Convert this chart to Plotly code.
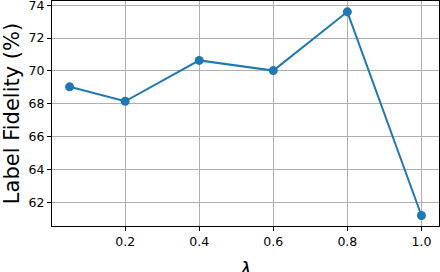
import plotly.graph_objects as go

lambdas = [0.05, 0.2, 0.4, 0.6, 0.8, 1.0]
fidelity = [69.03, 68.15, 70.64, 70.02, 73.6, 61.19]
x_ticks = [0.2, 0.4, 0.6, 0.8, 1.0]
x_tick_labels = ["0.2", "0.4", "0.6", "0.8", "1.0"]
y_ticks = [62, 64, 66, 68, 70, 72, 74]

fig = go.Figure()
fig.add_trace(go.Scatter(
    x=lambdas, y=fidelity, mode="lines+markers",
    line=dict(color="#1f77b4", width=2),
    marker=dict(color="#1f77b4", size=9),
    showlegend=False,
))

axis_common = dict(
    showline=True, linecolor="black", linewidth=1, mirror=True,
    showgrid=True, gridcolor="#b0b0b0", gridwidth=1,
    ticks="outside", ticklen=4, tickcolor="black",
    tickfont=dict(family="DejaVu Sans", size=12.5, color="black"),
    zeroline=False, automargin=False, ticklabeloverflow="allow",
)

fig.update_layout(
    width=440, height=272,
    margin=dict(l=52, r=1, t=1, b=46),
    paper_bgcolor="white", plot_bgcolor="white",
    xaxis=dict(
        range=[0.0025, 1.0475], tickvals=x_ticks, ticktext=x_tick_labels,
        **axis_common,
    ),
    yaxis=dict(
        range=[60.55, 74.26], tickvals=y_ticks,
        title=dict(text="Label Fidelity (%)", font=dict(family="DejaVu Sans", size=21, color="black"), standoff=5),
        **axis_common,
    ),
    annotations=[dict(
        text="<i>λ</i>", xref="paper", yref="paper", x=0.5, y=-0.19,
        xanchor="center", yanchor="middle", showarrow=False,
        font=dict(family="DejaVu Sans", size=20, color="black"),
    )],
)

fig.write_html("out.html", config={"displayModeBar": False},
               post_script="document.body.style.margin='0';document.body.style.overflow='hidden';")
